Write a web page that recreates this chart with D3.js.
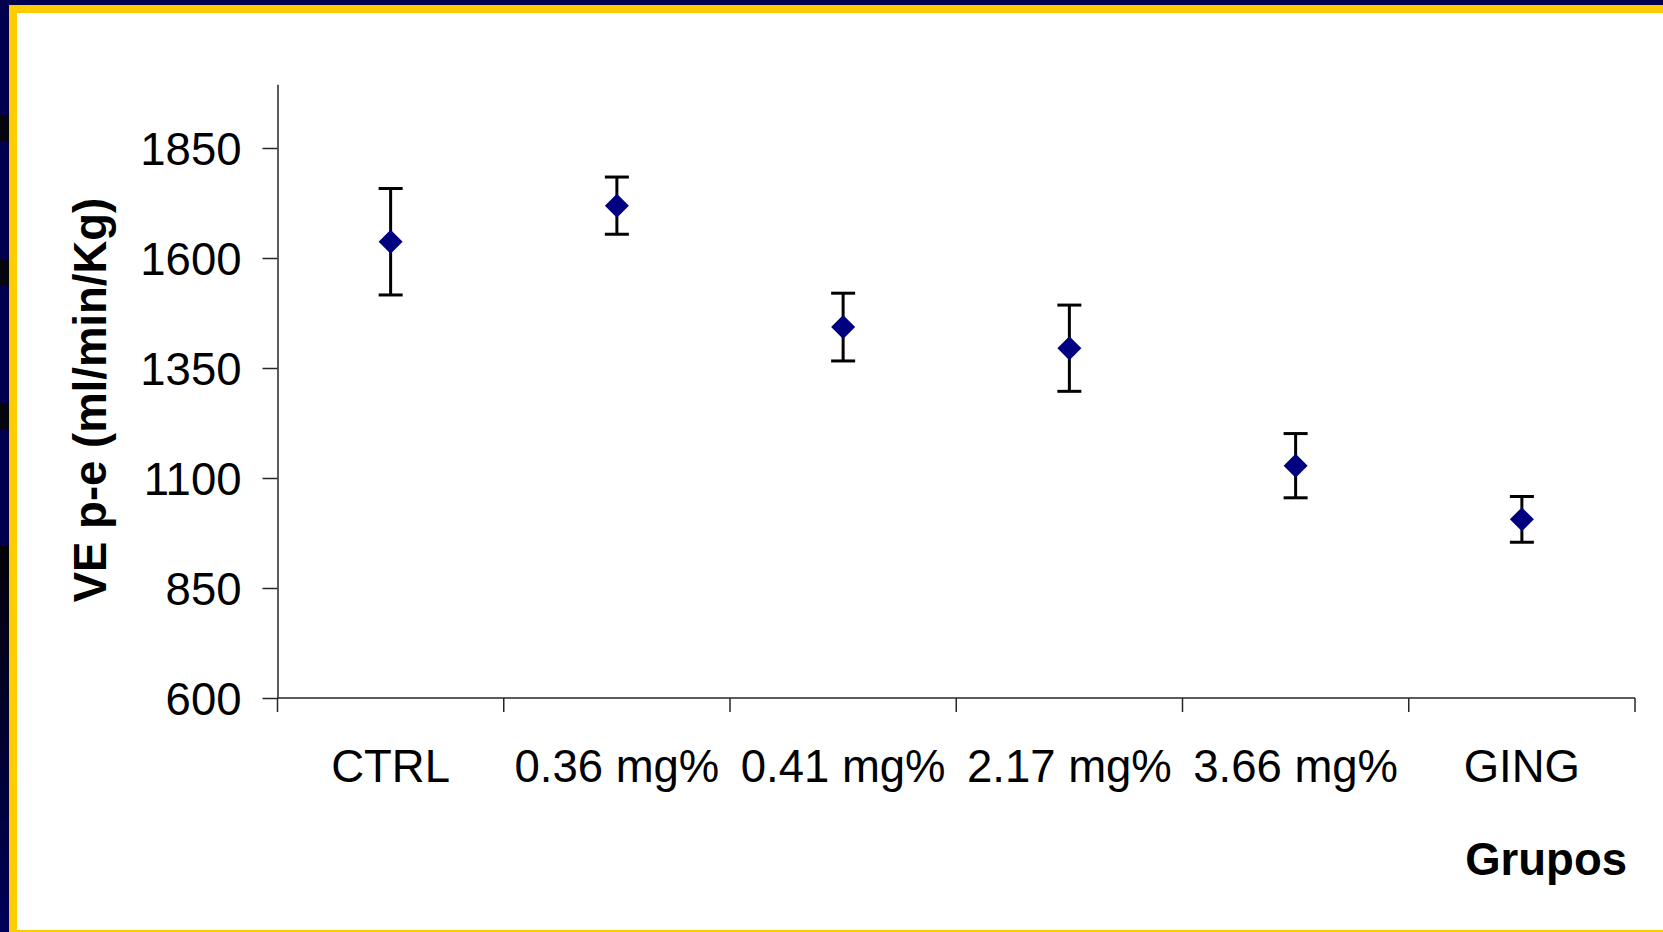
<!DOCTYPE html>
<html>
<head>
<meta charset="utf-8">
<script src="https://cdn.jsdelivr.net/npm/d3@7/dist/d3.min.js"></script>
<style>
  html, body { margin: 0; padding: 0; background: #fff; }
  svg { display: block; }
  text { font-family: "Liberation Sans", Arial, sans-serif; }
</style>
</head>
<body>
<svg id="chart" width="1663" height="932"></svg>
<script>
// Groups, means and error half-widths (ml/min/Kg)
const categories = ["CTRL", "0.36 mg%", "0.41 mg%", "2.17 mg%", "3.66 mg%", "GING"];
const means = [1637, 1719, 1443, 1395, 1128, 1006];
const errors = [121, 65, 77, 98, 73, 52];
const yTicks = [600, 850, 1100, 1350, 1600, 1850];

const W = 1663, H = 932;
const FS = 45.5;
const svg = d3.select("#chart");

// Slide frame: navy outer edge, yellow inner band
const defs = svg.append("defs");
const grad = defs.append("linearGradient").attr("id", "edgeFade")
  .attr("x1", 0).attr("y1", 0).attr("x2", 0).attr("y2", 1);
grad.append("stop").attr("offset", "0%").attr("stop-color", "#020208");
grad.append("stop").attr("offset", "100%").attr("stop-color", "#00005a");

svg.append("rect").attr("x", 0).attr("y", 0).attr("width", W).attr("height", H).attr("fill", "#00004e");
svg.append("rect").attr("x", 0).attr("y", 546).attr("width", 9).attr("height", H - 546).attr("fill", "url(#edgeFade)");
[[115, 141], [260, 286], [403, 430]].forEach(([a, b]) => {
  svg.append("rect").attr("x", 0).attr("y", a).attr("width", 9).attr("height", b - a).attr("fill", "#050510");
});
svg.append("rect").attr("x", 9).attr("y", 5).attr("width", W - 9).attr("height", H - 5).attr("fill", "#ffcc00");
svg.append("rect").attr("x", 17).attr("y", 13).attr("width", W - 17).attr("height", 917).attr("fill", "#ffffff");

// Plot geometry
const x0 = 277.5, x1 = 1635, yBottom = 698, yTop = 84.2;
const x = d3.scaleBand().domain(categories).range([x0, x1]).padding(0);
const y = d3.scaleLinear().domain([600, 1995]).range([yBottom, yTop]);

const axisColor = "#262626";

// Y axis
const yAxis = svg.append("g").attr("transform", `translate(${x0},0)`)
  .call(d3.axisLeft(y).tickValues(yTicks).tickSizeInner(15).tickSizeOuter(0)
    .tickFormat(d3.format("d")).tickPadding(21));
yAxis.select(".domain").attr("stroke", axisColor).attr("stroke-width", 1.5);
yAxis.selectAll(".tick line").attr("stroke", axisColor).attr("stroke-width", 1.5);
yAxis.selectAll(".tick text")
  .attr("fill", "#000").attr("font-size", FS)
  .attr("font-family", "'Liberation Sans', Arial, sans-serif")
  .attr("dy", "0.36em");

// X axis: ticks fall on the boundaries between groups
const xAxisG = svg.append("g");
xAxisG.append("line")
  .attr("x1", x0).attr("x2", x1).attr("y1", yBottom).attr("y2", yBottom)
  .attr("stroke", axisColor).attr("stroke-width", 1.5);
const boundaries = categories.map(c => x(c)).concat([x1]);
xAxisG.selectAll("line.xt").data(boundaries).enter().append("line")
  .attr("class", "xt")
  .attr("x1", d => d).attr("x2", d => d)
  .attr("y1", yBottom).attr("y2", yBottom + 14)
  .attr("stroke", axisColor).attr("stroke-width", 1.5);
xAxisG.selectAll("text.xl").data(categories).enter().append("text")
  .attr("class", "xl")
  .attr("x", d => x(d) + x.bandwidth() / 2)
  .attr("y", 782)
  .attr("text-anchor", "middle")
  .attr("font-size", FS)
  .attr("fill", "#000")
  .text(d => d);

// Axis titles
svg.append("text")
  .attr("transform", "translate(106,400) rotate(-90)")
  .attr("text-anchor", "middle")
  .attr("font-size", FS).attr("font-weight", "bold").attr("fill", "#000")
  .text("VE p-e (ml/min/Kg)");
svg.append("text")
  .attr("x", 1627).attr("y", 875)
  .attr("text-anchor", "end")
  .attr("font-size", FS).attr("font-weight", "bold").attr("fill", "#000")
  .text("Grupos");

// Error bars and mean markers
const data = categories.map((c, i) => ({ c, m: means[i], e: errors[i] }));
const cx = d => x(d.c) + x.bandwidth() / 2;
const capHalf = 12;

const bars = svg.append("g").attr("stroke", "#000").attr("stroke-width", 3);
bars.selectAll("line.stem").data(data).enter().append("line")
  .attr("x1", cx).attr("x2", cx)
  .attr("y1", d => y(d.m + d.e)).attr("y2", d => y(d.m - d.e));
bars.selectAll("line.capT").data(data).enter().append("line")
  .attr("x1", d => cx(d) - capHalf).attr("x2", d => cx(d) + capHalf)
  .attr("y1", d => y(d.m + d.e)).attr("y2", d => y(d.m + d.e));
bars.selectAll("line.capB").data(data).enter().append("line")
  .attr("x1", d => cx(d) - capHalf).attr("x2", d => cx(d) + capHalf)
  .attr("y1", d => y(d.m - d.e)).attr("y2", d => y(d.m - d.e));

const diamond = d3.symbol().type(d3.symbolSquare).size(288);
svg.append("g").selectAll("path").data(data).enter().append("path")
  .attr("d", diamond)
  .attr("transform", d => `translate(${cx(d)},${y(d.m)}) rotate(45)`)
  .attr("fill", "#000080");
</script>
</body>
</html>
